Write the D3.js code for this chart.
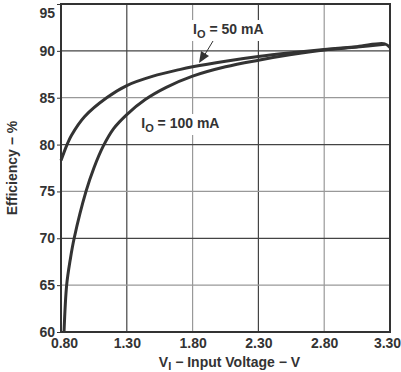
<!DOCTYPE html>
<html>
<head>
<meta charset="utf-8">
<script src="https://cdn.jsdelivr.net/npm/d3@7"></script>
<style>
  body { margin: 0; background: #fff; }
  text { font-family: "Liberation Sans", Arial, sans-serif; font-weight: bold; fill: #333; }
</style>
</head>
<body>
<div id="chart"></div>
<script>
var xTicks = [0.80, 1.30, 1.80, 2.30, 2.80, 3.30];
var yTicks = [60, 65, 70, 75, 80, 85, 90, 95];

// efficiency curves: [input voltage, efficiency %]
var io50 = [[0.80, 78.3], [0.846, 80.0], [0.88, 81.0], [0.98, 83.0], [1.147, 85.0], [1.30, 86.3],
            [1.50, 87.3], [1.70, 88.0], [1.80, 88.3], [2.05, 88.9], [2.30, 89.4], [2.55, 89.8],
            [2.80, 90.15], [3.05, 90.45], [3.26, 90.75], [3.30, 90.35]];
var io100 = [[0.823, 60], [0.843, 65], [0.87, 67.7], [0.90, 70], [0.99, 75], [1.05, 77.5],
             [1.12, 79.8], [1.20, 81.7], [1.30, 83.2], [1.44, 84.8], [1.60, 86.1], [1.80, 87.3],
             [2.05, 88.3], [2.30, 89.0], [2.55, 89.6], [2.80, 90.1], [3.05, 90.4], [3.26, 90.7]];

var margin = {top: 4, right: 11, bottom: 40, left: 61},
    width = 390 - margin.left,
    height = 332 - margin.top;

var x = d3.scaleLinear().domain([0.80, 3.30]).range([0, width]);
var y = d3.scaleLinear().domain([60, 95]).range([height, 0]);

var svg = d3.select("#chart").append("svg")
    .attr("width", 401)
    .attr("height", 372)
  .append("g")
    .attr("transform", "translate(" + margin.left + "," + margin.top + ")");

// grid
svg.selectAll(".vgrid")
    .data(xTicks.slice(1, -1))
  .enter().append("line")
    .attr("x1", function(d) { return x(d); })
    .attr("x2", function(d) { return x(d); })
    .attr("y1", 0).attr("y2", height)
    .attr("stroke", function(d, i) { return i % 2 ? "#999" : "#444"; })
    .attr("stroke-width", 1.2);

svg.selectAll(".hgrid")
    .data(yTicks.slice(1, -1))
  .enter().append("line")
    .attr("y1", function(d) { return y(d); })
    .attr("y2", function(d) { return y(d); })
    .attr("x1", 0).attr("x2", width)
    .attr("stroke", function(d) { return d % 10 ? "#999" : "#444"; })
    .attr("stroke-width", 1.2);

// axes
var xAxis = svg.append("g")
    .attr("transform", "translate(0," + height + ")")
    .call(d3.axisBottom(x).tickValues(xTicks).tickFormat(d3.format(".2f")).tickSize(0).tickPadding(6));
var yAxis = svg.append("g")
    .call(d3.axisLeft(y).tickValues(yTicks).tickSize(4).tickPadding(2));
[xAxis, yAxis].forEach(function(a) {
  a.select(".domain").remove();
  a.selectAll("text").attr("font-size", 14).attr("fill", "#333")
    .attr("font-family", "Liberation Sans, Arial, sans-serif").attr("font-weight", "bold");
  a.selectAll("line").attr("stroke", "#333");
});
// keep the end labels inside the picture
xAxis.selectAll("text").filter(function(d) { return d === 0.80; }).attr("dx", 3);
xAxis.selectAll("text").filter(function(d) { return d === 3.30; }).attr("dx", -3);
yAxis.selectAll("text").filter(function(d) { return d === 95; }).attr("dy", "0.95em");

svg.append("rect")
    .attr("width", width).attr("height", height)
    .attr("fill", "none").attr("stroke", "#333").attr("stroke-width", 2);

// curves
var line = d3.line()
    .x(function(d) { return x(d[0]); })
    .y(function(d) { return y(d[1]); })
    .curve(d3.curveCatmullRom.alpha(0.5));

[io50, io100].forEach(function(s) {
  svg.append("path")
      .datum(s)
      .attr("d", line)
      .attr("fill", "none")
      .attr("stroke", "#333")
      .attr("stroke-width", 3)
      .attr("stroke-linejoin", "round");
});

// labels
function label(tx, ty, val) {
  var bg = svg.append("rect").attr("fill", "#fff");
  var t = svg.append("text").attr("x", tx).attr("y", ty).attr("font-size", 14);
  t.append("tspan").text("I");
  t.append("tspan").attr("font-size", 11).attr("dy", 4).text("O");
  t.append("tspan").attr("dy", -4).text(" = " + val);
  var b = t.node().getBBox();
  bg.attr("x", b.x - 3).attr("y", b.y - 1).attr("width", b.width + 6).attr("height", b.height + 2);
}
label(x(1.80) + 0.5, 30, "50 mA");
label(x(1.41), 124, "100 mA");

// arrow to 50 mA curve
svg.append("line")
    .attr("x1", 152).attr("y1", 37).attr("x2", 143).attr("y2", 52)
    .attr("stroke", "#333").attr("stroke-width", 1);
svg.append("path")
    .attr("d", "M138,59 L140,47 L148,52 Z")
    .attr("fill", "#333");

// axis titles
var xt = svg.append("text")
    .attr("x", width / 2 + 4).attr("y", height + 35)
    .attr("text-anchor", "middle").attr("font-size", 14);
xt.append("tspan").text("V");
xt.append("tspan").attr("font-size", 11).attr("dy", 3).text("I");
xt.append("tspan").attr("dy", -3).text(" \u2212 Input Voltage \u2212 V");

svg.append("text")
    .attr("transform", "translate(-44," + (height / 2) + ") rotate(-90)")
    .attr("text-anchor", "middle").attr("font-size", 14)
    .text("Efficiency \u2212 %");
</script>
</body>
</html>
